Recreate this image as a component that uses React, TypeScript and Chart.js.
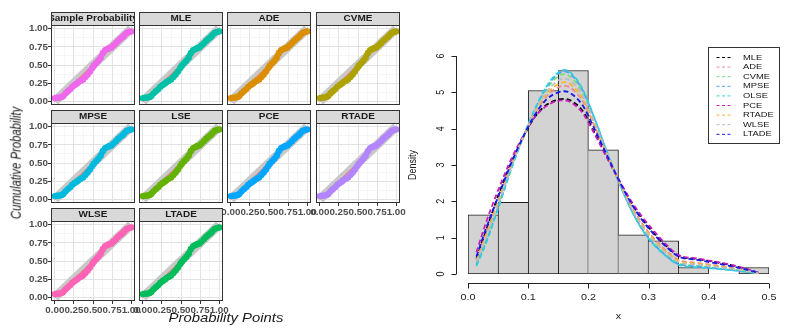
import React, { useEffect, useRef } from "react";
import { Chart, registerables } from "chart.js";
Chart.register(...registerables);

const FONT = '"Liberation Sans", Arial, Helvetica, sans-serif';

// ---------- facet (left) data ----------
const panelNames = ["Sample Probability", "MLE", "ADE", "CVME", "MPSE", "LSE", "PCE", "RTADE", "WLSE", "LTADE"];
const panelColors = ["#EF67EB", "#00C1A7", "#DB8E00", "#AEA200", "#00BADE", "#64B200", "#00A6FF", "#B385FF", "#FF63B6", "#00BD5C"];
const facetProb = [0, 0.03, 0.06, 0.09, 0.11, 0.14, 0.17, 0.2, 0.23, 0.26, 0.29, 0.31, 0.34, 0.37, 0.4, 0.43, 0.46, 0.49, 0.51, 0.54, 0.57, 0.6, 0.63, 0.66, 0.69, 0.71, 0.74, 0.77, 0.8, 0.83, 0.86, 0.89, 0.91, 0.94, 0.97, 1];
const facetCum = [0.045, 0.05, 0.052, 0.06, 0.075, 0.11, 0.14, 0.165, 0.2, 0.225, 0.245, 0.265, 0.285, 0.3, 0.335, 0.37, 0.41, 0.46, 0.49, 0.525, 0.56, 0.6, 0.665, 0.705, 0.72, 0.73, 0.74, 0.77, 0.8, 0.835, 0.86, 0.885, 0.91, 0.94, 0.955, 0.962];
const diagX = [0, 1];
const diagY = [0, 1];
const facetGrid = [0, 0.125, 0.25, 0.375, 0.5, 0.625, 0.75, 0.875, 1];
const facetMajor = [0, 0.25, 0.5, 0.75, 1];
const facetLabels = ["0.00", "0.25", "0.50", "0.75", "1.00"];

// ---------- histogram (right) data ----------
const binCenters = [0.025, 0.075, 0.125, 0.175, 0.225, 0.275, 0.325, 0.375, 0.425, 0.475];
const binDensity = [1.63, 1.97, 5.05, 5.6, 3.42, 1.08, 0.91, 0.18, 0, 0.18];
const curveX = [0.014, 0.03, 0.05, 0.07, 0.09, 0.11, 0.13, 0.15, 0.16, 0.17, 0.19, 0.21, 0.23, 0.25, 0.27, 0.29, 0.31, 0.33, 0.35, 0.38, 0.42, 0.45, 0.483];
const curveNames = ["MLE", "ADE", "CVME", "MPSE", "OLSE", "PCE", "RTADE", "WLSE", "LTADE"];
const curveColors = ["#000000", "#F08A90", "#7CDC7C", "#4FA3F7", "#2ECFE0", "#C81EC0", "#F2B632", "#BDBDBD", "#1A1AE6"];
const mleY = [0.42, 1.2, 2.15, 3.0, 3.7, 4.3, 4.65, 4.8, 4.82, 4.78, 4.5, 3.9, 3.25, 2.6, 2.0, 1.5, 1.1, 0.76, 0.5, 0.41, 0.3, 0.19, 0.03];
const adeY = [0.38, 1.1, 2.0, 2.92, 3.7, 4.39, 4.88, 5.14, 5.18, 5.13, 4.77, 4.08, 3.32, 2.58, 1.91, 1.37, 0.96, 0.63, 0.39, 0.31, 0.22, 0.14, 0.02];
const cvmeY = [0.28, 0.92, 1.86, 2.84, 3.7, 4.47, 5.08, 5.44, 5.5, 5.43, 5.01, 4.24, 3.38, 2.56, 1.83, 1.25, 0.83, 0.52, 0.29, 0.23, 0.15, 0.1, 0.02];
const mpseY = [0.25, 0.88, 1.83, 2.82, 3.7, 4.49, 5.13, 5.51, 5.58, 5.51, 5.07, 4.28, 3.39, 2.55, 1.81, 1.22, 0.8, 0.49, 0.27, 0.21, 0.14, 0.09, 0.02];
const olseY = [0.22, 0.85, 1.8, 2.8, 3.7, 4.5, 5.15, 5.55, 5.62, 5.55, 5.1, 4.3, 3.4, 2.55, 1.8, 1.2, 0.78, 0.48, 0.25, 0.19, 0.13, 0.08, 0.02];
const pceY = [0.6, 1.42, 2.3, 3.1, 3.75, 4.3, 4.62, 4.77, 4.78, 4.73, 4.44, 3.86, 3.22, 2.62, 2.04, 1.56, 1.16, 0.8, 0.52, 0.43, 0.31, 0.2, 0.03];
const rtadeY = [0.36, 1.05, 1.96, 2.9, 3.7, 4.41, 4.94, 5.23, 5.28, 5.22, 4.84, 4.13, 3.34, 2.57, 1.89, 1.33, 0.92, 0.6, 0.36, 0.29, 0.2, 0.13, 0.02];
const wlseY = [0.33, 1.0, 1.92, 2.87, 3.7, 4.44, 5.0, 5.33, 5.38, 5.32, 4.92, 4.18, 3.36, 2.57, 1.86, 1.29, 0.88, 0.56, 0.33, 0.26, 0.18, 0.12, 0.02];
const ltadeY = [0.48, 1.25, 2.12, 2.98, 3.72, 4.35, 4.8, 5.0, 5.03, 4.98, 4.65, 4.0, 3.3, 2.6, 1.98, 1.47, 1.07, 0.74, 0.48, 0.39, 0.27, 0.17, 0.03];
const curveValues = [mleY, adeY, cvmeY, mpseY, olseY, pceY, rtadeY, wlseY, ltadeY];
const histXTicks = [0, 0.1, 0.2, 0.3, 0.4, 0.5];
const histXLabels = ["0.0", "0.1", "0.2", "0.3", "0.4", "0.5"];
const histYTicks = [0, 1, 2, 3, 4, 5, 6];
const histYLabels = ["0", "1", "2", "3", "4", "5", "6"];

// ---------- layout ----------
const PANEL_LEFT = [51, 139, 227, 316];
const STRIP_TOP = [12, 110, 208];
const AXIS_W = 30;
const PW = 84;
const PH = 80;
const STRIP_H = 13;
const RIGHT_PAD = 8;
const XAX_H = 14;
const SX = 1.2;

function drawText(ctx: CanvasRenderingContext2D, text: string, x: number, y: number, size: number, o: any = {}) {
  ctx.save();
  ctx.translate(x, y);
  ctx.scale(o.sx ?? SX, 1);
  if (o.rotate) ctx.rotate(o.rotate);
  ctx.font = `${o.italic ? "italic " : ""}${o.bold ? "bold " : ""}${size}px ${FONT}`;
  ctx.textAlign = o.align ?? "center";
  ctx.textBaseline = o.baseline ?? "middle";
  ctx.fillStyle = o.color ?? "#000";
  ctx.fillText(text, 0, 0);
  ctx.restore();
}

const isMajor = (v: number) => facetMajor.some((m) => Math.abs(m - v) < 1e-9);
const majorLabel = (v: number) => {
  const i = facetMajor.findIndex((m) => Math.abs(m - v) < 1e-9);
  return i >= 0 ? facetLabels[i] : "";
};

function FacetPanel({ index }: { index: number }) {
  const ref = useRef<HTMLCanvasElement>(null);
  const col = index % 4;
  const row = Math.floor(index / 4);
  const showY = col === 0;
  const showX = row === 2 || (row === 1 && col >= 2);
  const W = AXIS_W + PW + RIGHT_PAD;
  const H = STRIP_H + PH + XAX_H;
  useEffect(() => {
    const color = panelColors[index];
    const name = panelNames[index];
    const facetPlugin = {
      id: "facet" + index,
      afterDraw(chart: any) {
        const { ctx, chartArea: a } = chart;
        const w = a.right - a.left;
        ctx.save();
        ctx.strokeStyle = "#333333";
        ctx.lineWidth = 1;
        ctx.strokeRect(a.left + 0.5, a.top + 0.5, w - 1, a.bottom - a.top - 1);
        const sTop = a.top - STRIP_H;
        ctx.fillStyle = "#D9D9D9";
        ctx.fillRect(a.left, sTop, w, STRIP_H + 1);
        ctx.strokeRect(a.left + 0.5, sTop + 0.5, w - 1, STRIP_H);
        ctx.beginPath();
        ctx.rect(a.left + 1, sTop + 1, w - 2, STRIP_H - 1);
        ctx.clip();
        drawText(ctx, name, a.left + w / 2, sTop + STRIP_H / 2 + 0.5, 8.3, { bold: true, color: "#1A1A1A" });
        ctx.restore();
      },
    };
    const tickFont = { family: FONT, size: 9.8, weight: "bold" as const };
    const chart = new Chart(ref.current as HTMLCanvasElement, {
      type: "scatter",
      data: {
        datasets: [
          {
            data: diagX.map((x, i) => ({ x, y: diagY[i] })),
            showLine: true,
            borderColor: "#C8C8C8",
            borderWidth: 9,
            pointRadius: 0,
            order: 3,
          },
          {
            data: diagX.map((x, i) => ({ x, y: diagY[i] })),
            showLine: true,
            borderColor: "#F8766D",
            borderWidth: 1.2,
            pointRadius: 0,
            order: 2,
          },
          {
            data: facetProb.map((x, i) => ({ x, y: facetCum[i] })),
            showLine: true,
            borderColor: color,
            borderWidth: 5.5,
            pointRadius: 3.2,
            pointBorderWidth: 0,
            pointBackgroundColor: color,
            order: 1,
          },
        ],
      },
      options: {
        animation: false,
        responsive: false,
        events: [],
        layout: { padding: { top: STRIP_H, right: RIGHT_PAD, left: 0, bottom: 0 } },
        plugins: { legend: { display: false }, tooltip: { enabled: false } },
        scales: {
          x: {
            type: "linear",
            min: -0.05,
            max: 1.05,
            afterBuildTicks: (s: any) => {
              s.ticks = facetGrid.map((v) => ({ value: v }));
            },
            afterFit: (s: any) => {
              s.height = XAX_H;
              s.paddingLeft = 0;
              s.paddingRight = 0;
            },
            ticks: {
              display: showX,
              autoSkip: false,
              minRotation: 0,
              maxRotation: 0,
              padding: 0,
              font: tickFont,
              color: "#4D4D4D",
              callback: (v: any) => majorLabel(Number(v)),
            },
            grid: {
              color: (c: any) => (isMajor(c.tick.value) ? "#E2E2E2" : "#F0F0F0"),
              lineWidth: (c: any) => (isMajor(c.tick.value) ? 1 : 0.6),
              drawTicks: showX,
              tickLength: 3,
              tickWidth: 1,
              tickColor: (c: any) => (isMajor(c.tick.value) ? "#333333" : "rgba(0,0,0,0)"),
            },
            border: { display: false },
          },
          y: {
            type: "linear",
            min: -0.05,
            max: 1.05,
            afterBuildTicks: (s: any) => {
              s.ticks = facetGrid.map((v) => ({ value: v }));
            },
            afterFit: (s: any) => {
              s.width = AXIS_W;
              s.paddingTop = 0;
              s.paddingBottom = 0;
            },
            ticks: {
              display: showY,
              autoSkip: false,
              padding: 0,
              font: tickFont,
              color: "#4D4D4D",
              callback: (v: any) => majorLabel(Number(v)),
            },
            grid: {
              color: (c: any) => (isMajor(c.tick.value) ? "#E2E2E2" : "#F0F0F0"),
              lineWidth: (c: any) => (isMajor(c.tick.value) ? 1 : 0.6),
              drawTicks: showY,
              tickLength: 3,
              tickWidth: 1,
              tickColor: (c: any) => (isMajor(c.tick.value) ? "#333333" : "rgba(0,0,0,0)"),
            },
            border: { display: false },
          },
        },
      } as any,
      plugins: [facetPlugin],
    });
    return () => chart.destroy();
  }, [index]);
  return (
    <canvas
      ref={ref}
      width={W}
      height={H}
      style={{ position: "absolute", left: PANEL_LEFT[col] - AXIS_W, top: STRIP_TOP[row], width: W, height: H }}
    />
  );
}

function Histogram() {
  const ref = useRef<HTMLCanvasElement>(null);
  useEffect(() => {
    const last = binDensity.length - 1;
    const histPlugin = {
      id: "rAxes",
      afterDraw(chart: any) {
        const { ctx } = chart;
        const xs = chart.scales.x;
        const ys = chart.scales.y;
        ctx.save();
        ctx.strokeStyle = "#222222";
        ctx.lineWidth = 1;
        // x axis
        const axY = Math.round(ys.getPixelForValue(0) + 9) + 0.5;
        ctx.beginPath();
        ctx.moveTo(xs.getPixelForValue(histXTicks[0]), axY);
        ctx.lineTo(xs.getPixelForValue(histXTicks[histXTicks.length - 1]), axY);
        histXTicks.forEach((v) => {
          const px = Math.round(xs.getPixelForValue(v)) + 0.5;
          ctx.moveTo(px, axY);
          ctx.lineTo(px, axY + 5);
        });
        ctx.stroke();
        histXTicks.forEach((v, i) => {
          drawText(ctx, histXLabels[i], xs.getPixelForValue(v), axY + 14, 9, { color: "#222" });
        });
        // y axis
        const axX = Math.round(xs.getPixelForValue(0) - 12) + 0.5;
        ctx.beginPath();
        ctx.moveTo(axX, ys.getPixelForValue(histYTicks[0]));
        ctx.lineTo(axX, ys.getPixelForValue(histYTicks[histYTicks.length - 1]));
        histYTicks.forEach((v) => {
          const py = Math.round(ys.getPixelForValue(v)) + 0.5;
          ctx.moveTo(axX, py);
          ctx.lineTo(axX - 5, py);
        });
        ctx.stroke();
        histYTicks.forEach((v, i) => {
          drawText(ctx, histYLabels[i], axX - 15.5, ys.getPixelForValue(v), 9, { rotate: -Math.PI / 2, color: "#222" });
        });
        // titles
        drawText(ctx, "x", xs.getPixelForValue(0.25), axY + 35, 9, { baseline: "alphabetic", color: "#222" });
        drawText(ctx, "Density", 13, ys.getPixelForValue(3), 9, { rotate: -Math.PI / 2, color: "#222" });
        // legend
        const bx = 308.5, by = 47.5, bw = 71, bh = 96;
        ctx.fillStyle = "#FFFFFF";
        ctx.fillRect(bx, by, bw, bh);
        ctx.strokeStyle = "#333333";
        ctx.strokeRect(bx, by, bw, bh);
        curveNames.forEach((n, k) => {
          const yy = 57.5 + k * 9.6;
          ctx.save();
          ctx.strokeStyle = curveColors[k];
          ctx.lineWidth = 1;
          ctx.setLineDash([3, 2.5]);
          ctx.beginPath();
          ctx.moveTo(316.5, yy);
          ctx.lineTo(331, yy);
          ctx.stroke();
          ctx.restore();
          drawText(ctx, n, 343, yy, 7.8, { align: "left", color: "#111" });
        });
        ctx.restore();
      },
    };
    const chart = new Chart(ref.current as HTMLCanvasElement, {
      type: "bar",
      data: {
        datasets: [
          {
            type: "bar",
            data: binCenters.map((x, i) => ({ x, y: binDensity[i] })),
            backgroundColor: "#D3D3D3",
            borderColor: "#1E1E1E",
            borderSkipped: false,
            borderWidth: (c: any) => {
              const i = c.dataIndex;
              const cur = binDensity[i];
              const left = i === 0 || cur >= binDensity[i - 1] ? 1 : 0;
              const right = i === last || cur > binDensity[i + 1] ? 1 : 0;
              return { top: 1, bottom: 1, left, right };
            },
            barPercentage: 1,
            categoryPercentage: 1,
            order: 100,
          } as any,
          ...curveNames.map((n, k) => ({
            type: "line" as const,
            label: n,
            data: curveX.map((x, i) => ({ x, y: curveValues[k][i] })),
            borderColor: curveColors[k],
            borderWidth: 1.8,
            borderDash: [5, 3],
            pointRadius: 0,
            fill: false,
            cubicInterpolationMode: "monotone" as const,
            order: 20 - k,
          })),
        ],
      },
      options: {
        animation: false,
        responsive: false,
        events: [],
        layout: { padding: { left: 68, right: 24, top: 56, bottom: 59 } },
        plugins: { legend: { display: false }, tooltip: { enabled: false } },
        scales: {
          x: { type: "linear", min: 0, max: 0.5, offset: false, display: false, ticks: { stepSize: 0.1 } },
          y: { type: "linear", min: 0, max: 6, display: false },
        },
      } as any,
      plugins: [histPlugin],
    });
    return () => chart.destroy();
  }, []);
  return <canvas ref={ref} width={393} height={333} style={{ position: "absolute", left: 400, top: 0, width: 393, height: 333 }} />;
}

export default function App() {
  return (
    <div style={{ position: "absolute", left: 0, top: 0, width: 793, height: 333, background: "#FFFFFF", overflow: "hidden", fontFamily: FONT }}>
      {panelNames.map((_, i) => (
        <FacetPanel key={i} index={i} />
      ))}
      <div
        style={{
          position: "absolute",
          left: 16,
          top: 163,
          transform: "translate(-50%, -50%) scaleX(1.25) rotate(-90deg)",
          fontStyle: "italic",
          fontSize: 11.3,
          lineHeight: 1,
          whiteSpace: "nowrap",
          color: "#1A1A1A",
        }}
      >
        Cumulative Probability
      </div>
      <div
        style={{
          position: "absolute",
          left: 225.5,
          top: 318,
          transform: "translate(-50%, -50%) scaleX(1.2)",
          fontStyle: "italic",
          fontSize: 12.4,
          lineHeight: 1,
          whiteSpace: "nowrap",
          color: "#1A1A1A",
        }}
      >
        Probability Points
      </div>
      <Histogram />
    </div>
  );
}
